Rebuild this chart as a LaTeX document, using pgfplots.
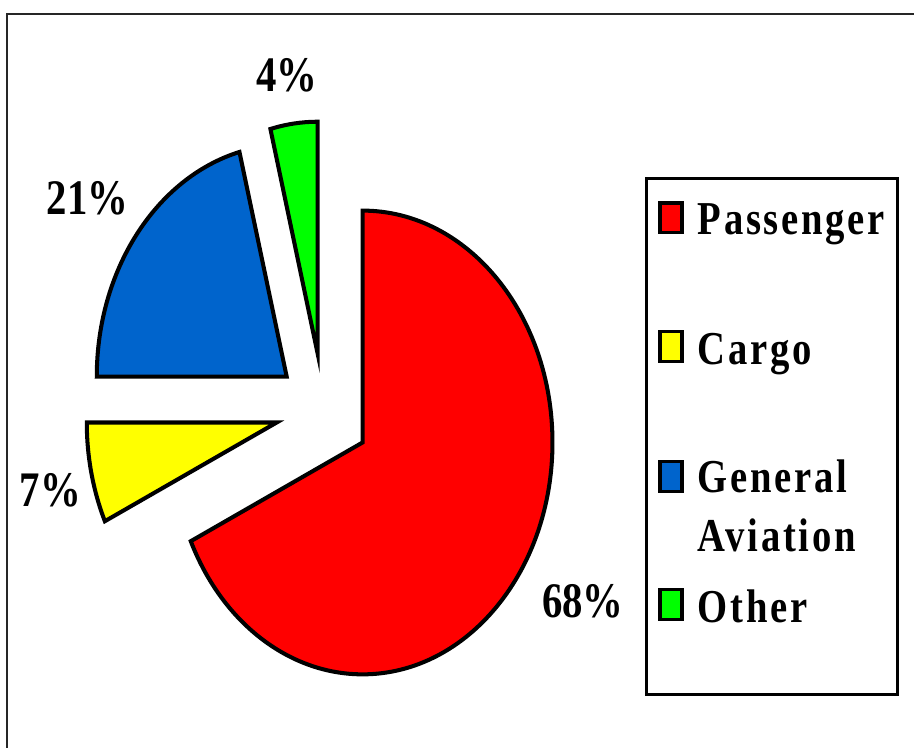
\documentclass[border=0pt]{standalone}
\usepackage{pgfplots}
\pgfplotsset{compat=1.18}
\usepackage{fontspec}
\setmainfont{Liberation Serif}
\newfontfamily\lab[LetterSpace=7]{Liberation Serif}
\definecolor{pRed}{HTML}{FF0000}
\definecolor{pYellow}{HTML}{FFFF00}
\definecolor{pBlue}{HTML}{0064CC}
\definecolor{pGreen}{HTML}{00FF00}
% slice: center x, center y, cumulative start (%), value (%), colour
\newcommand\slice[5]{%
  \filldraw[fill=#5,draw=black,line width=1.15pt,line join=miter]
    (axis cs:#1,#2) -- +({90-3.6*#3}:1.9cm and 2.32cm)
    arc[start angle={90-3.6*#3}, end angle={90-3.6*(#3+#4)}, x radius=1.9cm, y radius=2.32cm]
    -- cycle;}
\newcommand\tallt[1]{\scalebox{1}[1.22]{#1}}
\begin{document}
\begin{tikzpicture}
\begin{axis}[x=0.01cm,y=0.01cm,xmin=0,xmax=915,ymin=0,ymax=749,
  hide axis,clip=false]
\path (axis cs:0,0) rectangle (axis cs:915,749);
% frame
\draw[black!85,line width=0.6pt] (axis cs:915,735) -- (axis cs:7,735) -- (axis cs:7,0);
% slices (values 68, 7, 21, 4 percent)
\slice{363}{306}{0}{68}{pRed}
\slice{277}{326}{68}{7}{pYellow}
\slice{287}{372}{75}{21}{pBlue}
\slice{318}{395}{96}{4}{pGreen}
% percentage labels
\node[anchor=base west,inner sep=0pt,font=\fontsize{11.6}{13}\selectfont\bfseries] at (axis cs:256,657) {\tallt{4\%}};
\node[anchor=base west,inner sep=0pt,font=\fontsize{11.6}{13}\selectfont\bfseries] at (axis cs:46,534) {\tallt{21\%}};
\node[anchor=base west,inner sep=0pt,font=\fontsize{11.6}{13}\selectfont\bfseries] at (axis cs:19,242) {\tallt{7\%}};
\node[anchor=base west,inner sep=0pt,font=\fontsize{11.6}{13}\selectfont\bfseries] at (axis cs:542,131) {\tallt{68\%}};
% legend
\draw[black,line width=0.85pt] (axis cs:647,54) rectangle (axis cs:899,570);
\filldraw[fill=pRed,draw=black,line width=1pt] (axis cs:661,516) rectangle (axis cs:683,546);
\filldraw[fill=pYellow,draw=black,line width=1pt] (axis cs:661,387) rectangle (axis cs:683,417);
\filldraw[fill=pBlue,draw=black,line width=1pt] (axis cs:661,257) rectangle (axis cs:683,287);
\filldraw[fill=pGreen,draw=black,line width=1pt] (axis cs:661,129) rectangle (axis cs:683,159);
\node[anchor=base west,inner sep=0pt,font=\lab\fontsize{11}{13}\selectfont\bfseries] at (axis cs:698,514) {\tallt{Passenger}};
\node[anchor=base west,inner sep=0pt,font=\lab\fontsize{11}{13}\selectfont\bfseries] at (axis cs:698,384) {\tallt{Cargo}};
\node[anchor=base west,inner sep=0pt,font=\lab\fontsize{11}{13}\selectfont\bfseries] at (axis cs:698,256) {\tallt{General}};
\node[anchor=base west,inner sep=0pt,font=\lab\fontsize{11}{13}\selectfont\bfseries] at (axis cs:698,197) {\tallt{Aviation}};
\node[anchor=base west,inner sep=0pt,font=\lab\fontsize{11}{13}\selectfont\bfseries] at (axis cs:698,126) {\tallt{Other}};
\end{axis}
\end{tikzpicture}
\end{document}
